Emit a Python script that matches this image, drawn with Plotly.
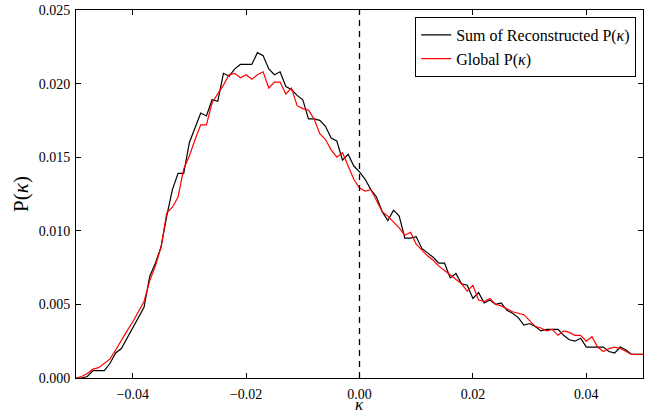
import plotly.graph_objects as go

kappa = [-0.050, -0.049, -0.048, -0.047, -0.046, -0.045, -0.044, -0.043, -0.042, -0.041,
         -0.040, -0.039, -0.038, -0.037, -0.036, -0.035, -0.034, -0.033, -0.032, -0.031,
         -0.030, -0.029, -0.028, -0.027, -0.026, -0.025, -0.024, -0.023, -0.022, -0.021,
         -0.020, -0.019, -0.018, -0.017, -0.016, -0.015, -0.014, -0.013, -0.012, -0.011,
         -0.010, -0.009, -0.008, -0.007, -0.006, -0.005, -0.004, -0.003, -0.002, -0.001,
         0.000, 0.001, 0.002, 0.003, 0.004, 0.005, 0.006, 0.007, 0.008, 0.009,
         0.010, 0.011, 0.012, 0.013, 0.014, 0.015, 0.016, 0.017, 0.018, 0.019,
         0.020, 0.021, 0.022, 0.023, 0.024, 0.025, 0.026, 0.027, 0.028, 0.029,
         0.030, 0.031, 0.032, 0.033, 0.034, 0.035, 0.036, 0.037, 0.038, 0.039,
         0.040, 0.041, 0.042, 0.043, 0.044, 0.045, 0.046, 0.047, 0.048, 0.049,
         0.050]

sum_reconstructed = [
    0.0000, 0.0000, 0.0001, 0.0005, 0.0005, 0.0005, 0.0010, 0.0017, 0.0020, 0.0027,
    0.0033, 0.0040, 0.0048, 0.0069, 0.0078, 0.0089, 0.0110, 0.0128, 0.0139, 0.0139,
    0.0160, 0.0170, 0.0180, 0.0178, 0.0189, 0.0188, 0.0207, 0.0205, 0.0210, 0.0213,
    0.0213, 0.0213, 0.0221, 0.0219, 0.0210, 0.0206, 0.0208, 0.0198, 0.0196, 0.0192,
    0.0189, 0.0176, 0.0176, 0.0175, 0.0171, 0.0163, 0.0161, 0.0148, 0.0152, 0.0144,
    0.0140, 0.0135, 0.0128, 0.0123, 0.0113, 0.0107, 0.0114, 0.0110, 0.0095, 0.0095,
    0.0096, 0.0088, 0.0085, 0.0082, 0.0078, 0.0078, 0.0068, 0.0071, 0.0064, 0.0063,
    0.0054, 0.0058, 0.0051, 0.0053, 0.0050, 0.0051, 0.0046, 0.0044, 0.0041, 0.0036,
    0.0037, 0.0035, 0.0032, 0.0033, 0.0033, 0.0033, 0.0029, 0.0026, 0.0025, 0.0027,
    0.0021, 0.0021, 0.0021, 0.0021, 0.0018, 0.0017, 0.0021, 0.0019, 0.0016, 0.0016,
    0.0016]

global_pk = [
    0.0000, 0.0001, 0.0003, 0.0006, 0.0007, 0.0010, 0.0013, 0.0019, 0.0026, 0.0032,
    0.0038, 0.0045, 0.0052, 0.0066, 0.0076, 0.0089, 0.0112, 0.0116, 0.0123, 0.0142,
    0.0151, 0.0162, 0.0172, 0.0172, 0.0187, 0.0193, 0.0199, 0.0206, 0.0207, 0.0204,
    0.0206, 0.0203, 0.0206, 0.0208, 0.0197, 0.0201, 0.0201, 0.0193, 0.0197, 0.0185,
    0.0183, 0.0182, 0.0176, 0.0166, 0.0162, 0.0155, 0.0150, 0.0153, 0.0144, 0.0135,
    0.0129, 0.0127, 0.0128, 0.0121, 0.0113, 0.0110, 0.0106, 0.0102, 0.0097, 0.0099,
    0.0091, 0.0087, 0.0083, 0.0080, 0.0076, 0.0073, 0.0070, 0.0067, 0.0064, 0.0059,
    0.0063, 0.0053, 0.0052, 0.0054, 0.0050, 0.0049, 0.0047, 0.0045, 0.0044, 0.0043,
    0.0039, 0.0035, 0.0034, 0.0032, 0.0033, 0.0029, 0.0032, 0.0031, 0.0029, 0.0029,
    0.0025, 0.0028, 0.0021, 0.0018, 0.0020, 0.0021, 0.0020, 0.0018, 0.0016, 0.0016,
    0.0016]

x_ticks = [-0.04, -0.02, 0.00, 0.02, 0.04]
y_ticks = [0.000, 0.005, 0.010, 0.015, 0.020, 0.025]

FONT = "Liberation Serif"

fig = go.Figure()
fig.add_trace(go.Scatter(x=kappa, y=sum_reconstructed, mode="lines",
                         name="Sum of Reconstructed P(<i>κ</i>)",
                         line=dict(color="black", width=1.2)))
fig.add_trace(go.Scatter(x=kappa, y=global_pk, mode="lines",
                         name="Global P(<i>κ</i>)",
                         line=dict(color="#ff0000", width=1.2)))

fig.add_shape(type="line", xref="x", yref="paper", x0=0, x1=0, y0=0, y1=1,
              line=dict(color="black", width=1.3, dash="6px,5px"))

# x-axis title as a paper annotation, placed below the tick labels
fig.add_annotation(text="<i>κ</i>", xref="paper", yref="paper", x=0.5, y=0,
                   xanchor="center", yanchor="middle", yshift=-26, showarrow=False,
                   font=dict(family=FONT, size=17, color="black"))

axis_common = dict(showline=True, linecolor="black", linewidth=1, mirror="ticks",
                   ticks="inside", ticklen=5, tickcolor="black", showgrid=False,
                   zeroline=False, automargin=False,
                   tickfont=dict(family=FONT, size=14, color="black"))

fig.update_xaxes(range=[-0.05, 0.05], tickvals=x_ticks, tickformat=".2f",
                 ticklabelstandoff=3, **axis_common)
fig.update_yaxes(range=[0, 0.025], tickvals=y_ticks, tickformat=".3f",
                 ticklabelstandoff=2,
                 title=dict(text="P(<i>κ</i>)", font=dict(family=FONT, size=21, color="black"),
                            standoff=4),
                 **axis_common)

fig.update_layout(
    width=659, height=416,
    margin=dict(l=76, r=16, t=10, b=38, autoexpand=False),
    paper_bgcolor="white", plot_bgcolor="white",
    font=dict(family=FONT, color="black"),
    showlegend=True,
    legend=dict(x=0.988, xanchor="right", y=0.981, yanchor="top",
                bordercolor="black", borderwidth=1, bgcolor="white",
                font=dict(family=FONT, size=16, color="black"),
                tracegroupgap=0, itemwidth=30),
)

# remove the default 8px page margin so the 659x416 figure fills the window exactly
fig.write_html("out.html", config={"displayModeBar": False},
               post_script="document.body.style.margin='0px';document.body.style.overflow='hidden';")
